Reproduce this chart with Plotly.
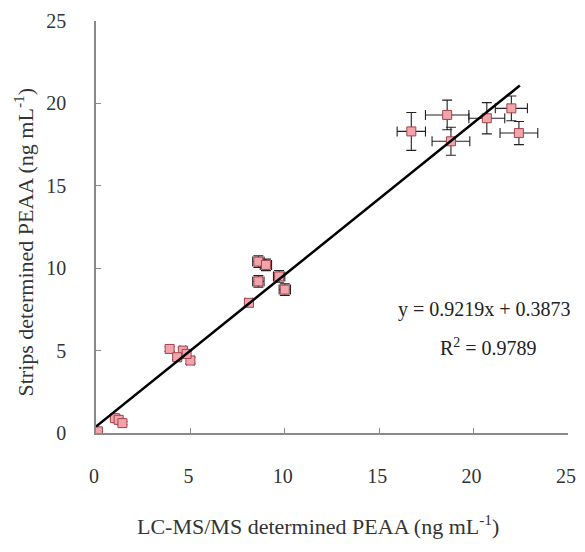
import plotly.graph_objects as go

# LC-MS/MS values (x) and strip values (y), with error estimates
x_vals = [0.1, 1.0, 1.2, 1.4, 3.9, 4.6, 4.3, 5.0, 4.8,
          8.1, 8.6, 9.0, 8.6, 9.7, 10.0,
          16.7, 18.6, 18.8, 20.7, 22.0, 22.4]
y_vals = [0.1, 0.9, 0.8, 0.6, 5.1, 5.0, 4.6, 4.4, 4.8,
          7.9, 10.4, 10.2, 9.2, 9.5, 8.7,
          18.3, 19.3, 17.7, 19.1, 19.7, 18.2]
x_err = [0.0, 0.1, 0.1, 0.1, 0.15, 0.15, 0.15, 0.2, 0.15,
         0.2, 0.3, 0.3, 0.3, 0.3, 0.3,
         0.75, 1.15, 1.0, 0.95, 0.85, 1.0]
y_err = [0.0, 0.1, 0.1, 0.1, 0.15, 0.15, 0.15, 0.2, 0.15,
         0.2, 0.35, 0.35, 0.35, 0.35, 0.35,
         1.15, 0.9, 0.85, 0.95, 0.75, 0.7]

slope = 0.9219
intercept = 0.3873
fit_x = [0.0, 22.45]
fit_y = [slope * v + intercept for v in fit_x]

x_ticks = [0, 5, 10, 15, 20, 25]
y_ticks = [0, 5, 10, 15, 20, 25]

serif = "Liberation Serif, Times New Roman, serif"

fig = go.Figure()
fig.add_trace(go.Scatter(
    x=x_vals, y=y_vals, mode="markers",
    marker=dict(symbol="square", size=9, color="#f2a4ac",
                line=dict(color="#a3444c", width=1)),
    error_x=dict(type="data", array=x_err, color="#222222", thickness=1.1, width=5),
    error_y=dict(type="data", array=y_err, color="#222222", thickness=1.1, width=5),
    showlegend=False,
))
fig.add_trace(go.Scatter(
    x=fit_x, y=fit_y, mode="lines",
    line=dict(color="#000000", width=2.5), showlegend=False,
))

axis_common = dict(
    range=[0, 25], showgrid=False, zeroline=False, automargin=False,
    showline=True, linecolor="#8a8a8a", linewidth=1.5,
    ticks="inside", ticklen=5, tickcolor="#8a8a8a", tickwidth=1,
    tickfont=dict(family=serif, size=20, color="#333333"),
    ticklabeloverflow="allow",
)
fig.update_xaxes(tickvals=x_ticks, ticklabelstandoff=24, ticklabelshift=-2, **axis_common)
fig.update_yaxes(tickvals=y_ticks, ticklabelstandoff=24, **axis_common)

fig.add_annotation(
    x=20.6, y=7.5, xref="x", yref="y",
    text="y = 0.9219x + 0.3873", showarrow=False,
    font=dict(family=serif, size=20, color="#222222"),
)
fig.add_annotation(
    x=20.8, y=5.2, xref="x", yref="y",
    text="R<sup>2</sup> = 0.9789", showarrow=False,
    font=dict(family=serif, size=20, color="#222222"),
)
fig.add_annotation(
    x=0.47, y=-0.223, xref="paper", yref="paper", yanchor="middle",
    text="LC-MS/MS determined PEAA (ng mL<sup>-1</sup>)", showarrow=False,
    font=dict(family=serif, size=22, color="#333333"),
)
fig.add_annotation(
    x=-0.152, y=0.463, xref="paper", yref="paper", xanchor="center",
    text="Strips determined PEAA (ng mL<sup>-1</sup>)", showarrow=False, textangle=-90,
    font=dict(family=serif, size=22, color="#333333"),
)

# page body has an 8px margin on each side, so the figure is sized to fit inside
fig.update_layout(
    width=569, height=536,
    margin=dict(l=88, r=9, t=13, b=111),
    plot_bgcolor="white", paper_bgcolor="white",
)

fig.write_html("out.html")
